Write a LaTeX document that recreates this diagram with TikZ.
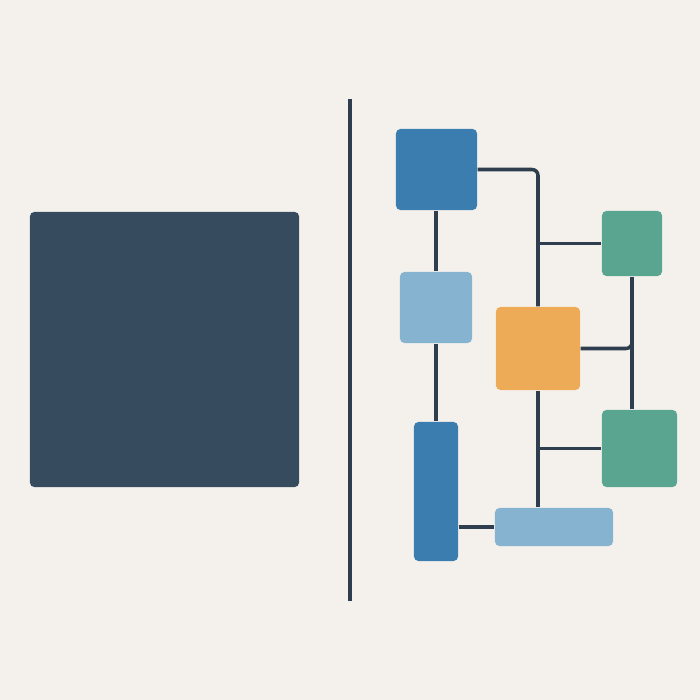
\documentclass[tikz,border=0pt]{standalone}
\usepackage{xcolor}
\usetikzlibrary{calc, positioning}

\definecolor{paper}{HTML}{F4F1ED}
\definecolor{slate}{HTML}{364B5E}
\definecolor{wire}{HTML}{2F3E4E}
\definecolor{steel}{HTML}{3A7DAE}
\definecolor{sky}{HTML}{86B3CF}
\definecolor{amber}{HTML}{EDAA57}
\definecolor{jade}{HTML}{5AA58F}

\tikzset{
	block/.style = {rectangle, rounded corners = 0.45mm, inner sep = 0pt, draw = none},
	wirestyle/.style = {draw = wire, line width = 1pt, rounded corners = 0.6mm},
}

\begin{document}
\begin{tikzpicture}[x = 0.01cm, y = -0.01cm]
			\fill[paper] (0,0) rectangle (700,700);

			% left panel
			\node[block, fill = slate, minimum width = 26.9mm, minimum height = 27.5mm] (panel) at (164.5,349.5) {};

			% divider
			\draw[wire, line width = 0.9pt] (350,99) -- (350,601);

			% blocks on the right
			\begin{scope}
				\node[block, fill = steel, minimum width = 8.1mm, minimum height = 8.1mm] (top) at (436.5,169.5) {};
				\node[block, fill = sky, minimum width = 7.2mm, minimum height = 7.1mm] (mid) at (436,307.5) {};
				\node[block, fill = steel, minimum width = 4.4mm, minimum height = 13.9mm] (tall) at (436,491.5) {};
				\node[block, fill = amber, minimum width = 8.4mm, minimum height = 8.3mm] (hub) at (538,348.5) {};
				\node[block, fill = jade, minimum width = 6.0mm, minimum height = 6.5mm] (upper) at (632,243.5) {};
				\node[block, fill = jade, minimum width = 7.5mm, minimum height = 7.7mm] (lower) at (639.5,448.5) {};
				\node[block, fill = sky, minimum width = 11.8mm, minimum height = 3.8mm] (wide) at (554,527) {};
			\end{scope}

			% connectors
			\begin{scope}[wirestyle]
				\draw (mid.north |- top.south) -- (mid.north);
				\draw (mid.south) -- (tall.north);
				\draw (top.east) -| (hub.north);
				\draw (hub.north |- upper.west) -- (upper.west);
				\draw (upper.south) -- (upper.south |- lower.north);
				\draw (hub.east) -| ($(upper.south |- hub.east) + (0,-12)$);
				\draw (hub.south) -- (hub.south |- wide.north);
				\draw (hub.south |- lower.west) -- (lower.west);
				\draw (tall.east |- wide.west) -- (wide.west);
			\end{scope}
		\end{tikzpicture}
\end{document}
